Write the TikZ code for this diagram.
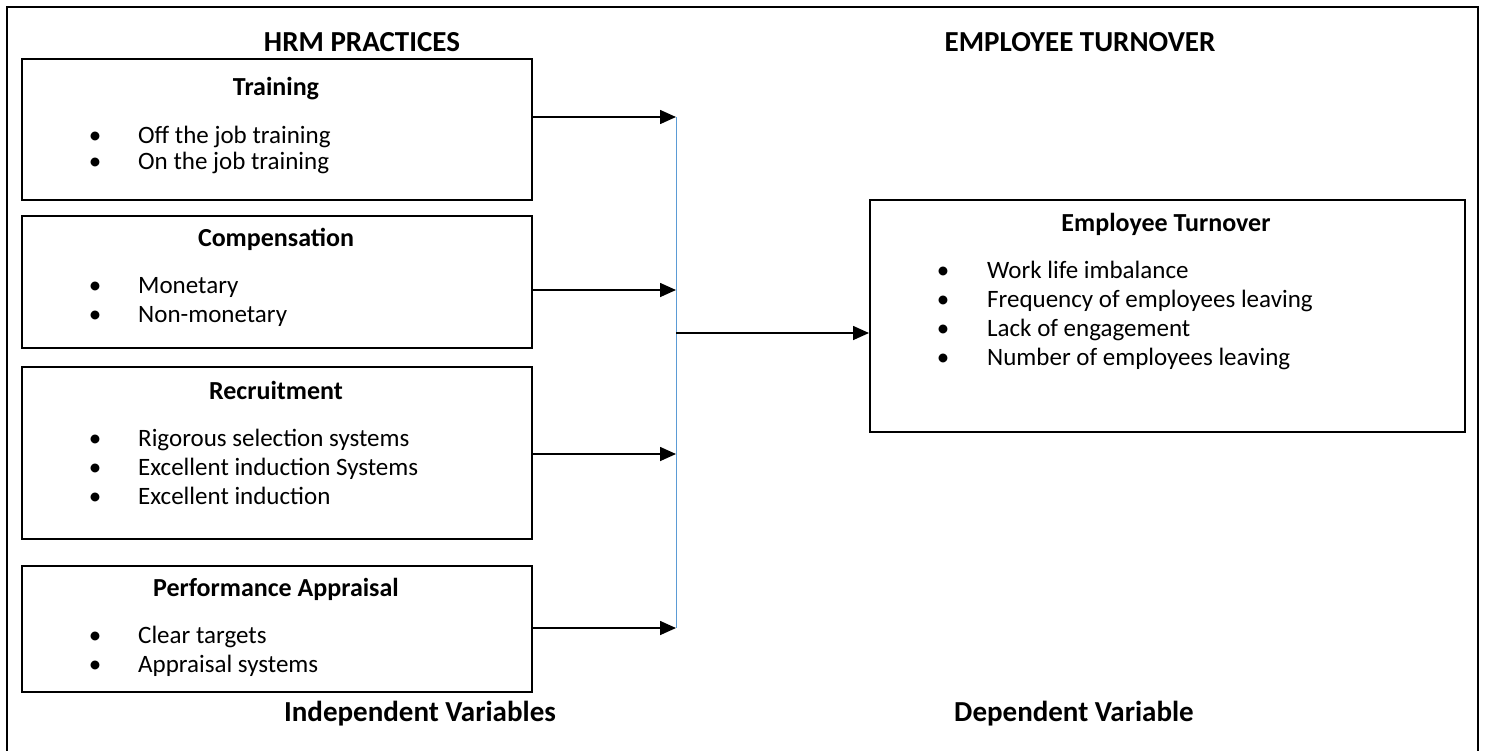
\documentclass[tikz,border=0pt]{standalone}
\usepackage{fontspec}
\setmainfont{Carlito}
\usetikzlibrary{arrows.meta,positioning,calc}
\definecolor{Link}{RGB}{91,155,213}

\begin{document}
\begin{tikzpicture}[x=1pt,y=-1pt,>={Triangle[length=16pt,width=14pt]},
  box/.style={draw,line width=1.6pt,anchor=north west,inner sep=0pt,minimum width=510pt,minimum height=#1},
  boxhead/.style={inner sep=0pt,anchor=base,font=\fontsize{26}{30}\selectfont\bfseries},
  heading/.style={inner sep=0pt,anchor=base,font=\fontsize{29}{34}\selectfont\bfseries},
  item/.style={inner sep=0pt,anchor=base west,font=\fontsize{25}{29}\selectfont},
  flow/.style={->,line width=1.6pt},
  bus/.style={Link,line width=1pt}]
  \useasboundingbox (0,0) rectangle (1485,750);
  \draw[line width=1.6pt] (7,7) rectangle (1478,770);

  % headings
  \node[heading] (hrm) at (362,51) {HRM PRACTICES};
  \node[heading] (et) at (1080,51) {EMPLOYEE TURNOVER};
  \node[heading] (indep) at (420,721) {Independent Variables};
  \node[heading] (dep) at (1074,721) {Dependent Variable};

  % independent variables
  \node[box=141pt] (train) at (21,58) {};
  \node[boxhead] (trainT) at (276,95) {Training};
  \foreach \txt [count=\i] in {Off the job training,On the job training}
    \node[item] (train-\i) at (95,{143+26*(\i-1)}) {\makebox[0pt]{\textbullet}\hspace{43pt}\txt};

  \node[box=132pt] (comp) at (21,215) {};
  \node[boxhead] (compT) at (276,246) {Compensation};
  \foreach \txt [count=\i] in {Monetary,Non-monetary}
    \node[item] (comp-\i) at (95,{293+29*(\i-1)}) {\makebox[0pt]{\textbullet}\hspace{43pt}\txt};

  \node[box=172pt] (recr) at (21,366) {};
  \node[boxhead] (recrT) at (276,399) {Recruitment};
  \foreach \txt [count=\i] in {Rigorous selection systems,Excellent induction Systems,Excellent induction}
    \node[item] (recr-\i) at (95,{446+29*(\i-1)}) {\makebox[0pt]{\textbullet}\hspace{43pt}\txt};

  \node[box=126pt] (perf) at (21,565) {};
  \node[boxhead] (perfT) at (276,596) {Performance Appraisal};
  \foreach \txt [count=\i] in {Clear targets,Appraisal systems}
    \node[item] (perf-\i) at (95,{643+29*(\i-1)}) {\makebox[0pt]{\textbullet}\hspace{43pt}\txt};

  % dependent variable
  \node[box=232pt,minimum width=595pt] (turn) at (869,199) {};
  \node[boxhead] (turnT) at (1166,231) {Employee Turnover};
  \foreach \txt [count=\i] in {Work life imbalance,Frequency of employees leaving,Lack of engagement,Number of employees leaving}
    \node[item] (turn-\i) at (943,{278+29*(\i-1)}) {\makebox[0pt]{\textbullet}\hspace{44pt}\txt};

  % connectors
  \coordinate (j1) at (676,117);
  \coordinate (j2) at (676,290);
  \coordinate (j3) at (676,454);
  \coordinate (j4) at (676,628);
  \coordinate (jm) at (676,333);
  \draw[bus] (j1) -- (j4);
  \draw[flow] (train.east |- j1) -- (j1);
  \draw[flow] (comp.east |- j2) -- (j2);
  \draw[flow] (recr.east |- j3) -- (j3);
  \draw[flow] (perf.east |- j4) -- (j4);
  \draw[flow] (jm) -- (turn.west |- jm);
\end{tikzpicture}
\end{document}
